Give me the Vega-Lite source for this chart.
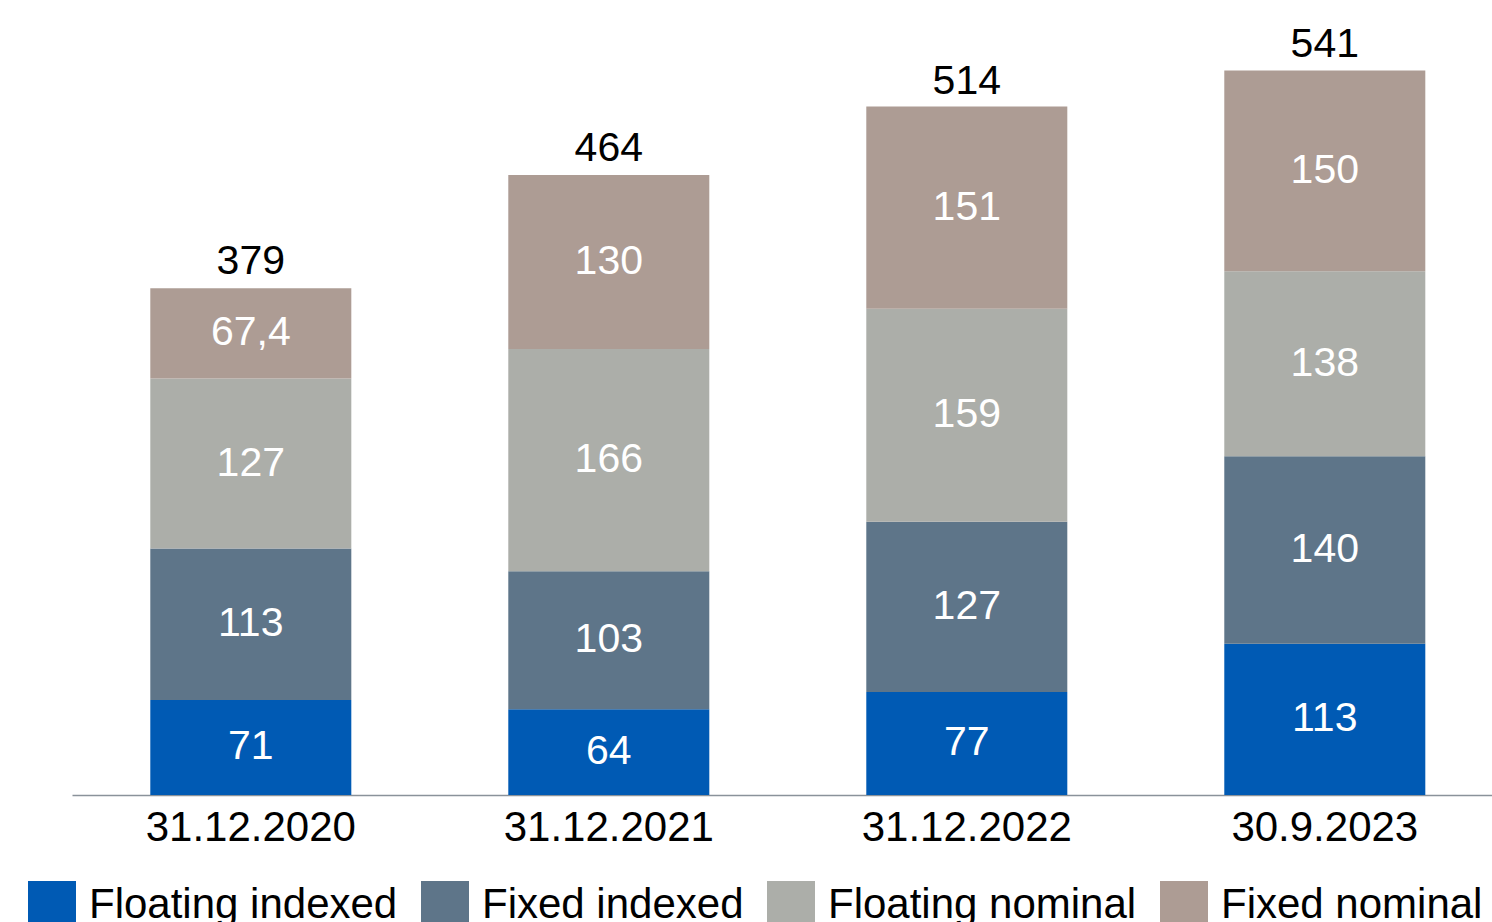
{
  "$schema": "https://vega.github.io/schema/vega-lite/v6.json",
  "width": 1420,
  "height": 750,
  "autosize": {"type": "none"},
  "padding": {"left": 72, "top": 45, "right": 0, "bottom": 127},
  "background": "white",
  "config": {
    "view": {"stroke": null},
    "font": "Liberation Sans"
  },
  "datasets": {
    "parts": [
      {"date": "31.12.2020", "series": "Floating indexed", "order": 1, "value": 71, "label": "71"},
      {"date": "31.12.2020", "series": "Fixed indexed", "order": 2, "value": 113, "label": "113"},
      {"date": "31.12.2020", "series": "Floating nominal", "order": 3, "value": 127, "label": "127"},
      {"date": "31.12.2020", "series": "Fixed nominal", "order": 4, "value": 67.4, "label": "67,4"},
      {"date": "31.12.2021", "series": "Floating indexed", "order": 1, "value": 64, "label": "64"},
      {"date": "31.12.2021", "series": "Fixed indexed", "order": 2, "value": 103, "label": "103"},
      {"date": "31.12.2021", "series": "Floating nominal", "order": 3, "value": 166, "label": "166"},
      {"date": "31.12.2021", "series": "Fixed nominal", "order": 4, "value": 130, "label": "130"},
      {"date": "31.12.2022", "series": "Floating indexed", "order": 1, "value": 77, "label": "77"},
      {"date": "31.12.2022", "series": "Fixed indexed", "order": 2, "value": 127, "label": "127"},
      {"date": "31.12.2022", "series": "Floating nominal", "order": 3, "value": 159, "label": "159"},
      {"date": "31.12.2022", "series": "Fixed nominal", "order": 4, "value": 151, "label": "151"},
      {"date": "30.9.2023", "series": "Floating indexed", "order": 1, "value": 113, "label": "113"},
      {"date": "30.9.2023", "series": "Fixed indexed", "order": 2, "value": 140, "label": "140"},
      {"date": "30.9.2023", "series": "Floating nominal", "order": 3, "value": 138, "label": "138"},
      {"date": "30.9.2023", "series": "Fixed nominal", "order": 4, "value": 150, "label": "150"}
    ],
    "totals": [
      {"date": "31.12.2020", "total": 379},
      {"date": "31.12.2021", "total": 464},
      {"date": "31.12.2022", "total": 514},
      {"date": "30.9.2023", "total": 541}
    ]
  },
  "encoding": {
    "x": {
      "field": "date",
      "type": "nominal",
      "sort": ["31.12.2020", "31.12.2021", "31.12.2022", "30.9.2023"],
      "scale": {"paddingInner": 0.4385, "paddingOuter": 0.2025, "align": 0.54},
      "axis": {
        "title": null,
        "labelAngle": 0,
        "labelFontSize": 42,
        "labelColor": "#000000",
        "labelPadding": 12,
        "labelLimit": 500,
        "ticks": false,
        "domainColor": "#8a929a",
        "domainWidth": 1.5,
        "grid": false
      }
    }
  },
  "layer": [
    {
      "data": {"name": "parts"},
      "transform": [
        {"stack": "value", "groupby": ["date"], "sort": [{"field": "order", "order": "ascending"}], "as": ["v0", "v1"]},
        {"calculate": "(datum.v0 + datum.v1) / 2", "as": "mid"}
      ],
      "layer": [
        {
          "mark": {"type": "bar"},
          "encoding": {
            "y": {"field": "v0", "type": "quantitative", "scale": {"domain": [0, 560], "nice": false}, "axis": null},
            "y2": {"field": "v1"},
            "color": {
              "field": "series",
              "type": "nominal",
              "scale": {
                "domain": ["Floating indexed", "Fixed indexed", "Floating nominal", "Fixed nominal"],
                "range": ["#005AB4", "#5E7589", "#ACAEA9", "#AD9C94"]
              },
              "legend": {
                "title": null,
                "orient": "none",
                "direction": "horizontal",
                "legendX": -44,
                "legendY": 836,
                "symbolType": "square",
                "symbolSize": 2304,
                "symbolStrokeWidth": 0,
                "symbolOpacity": 1,
                "labelFontSize": 42,
                "labelColor": "#000000",
                "labelOffset": 13,
                "columnPadding": 23,
                "padding": 0,
                "labelLimit": 600
              }
            }
          }
        },
        {
          "mark": {"type": "text", "color": "white", "fontSize": 41, "baseline": "middle"},
          "encoding": {
            "y": {"field": "mid", "type": "quantitative"},
            "text": {"field": "label", "type": "nominal"}
          }
        }
      ]
    },
    {
      "data": {"name": "totals"},
      "mark": {"type": "text", "color": "black", "fontSize": 41, "baseline": "alphabetic", "dy": -13},
      "encoding": {
        "y": {"field": "total", "type": "quantitative"},
        "text": {"field": "total", "type": "quantitative"}
      }
    }
  ]
}
